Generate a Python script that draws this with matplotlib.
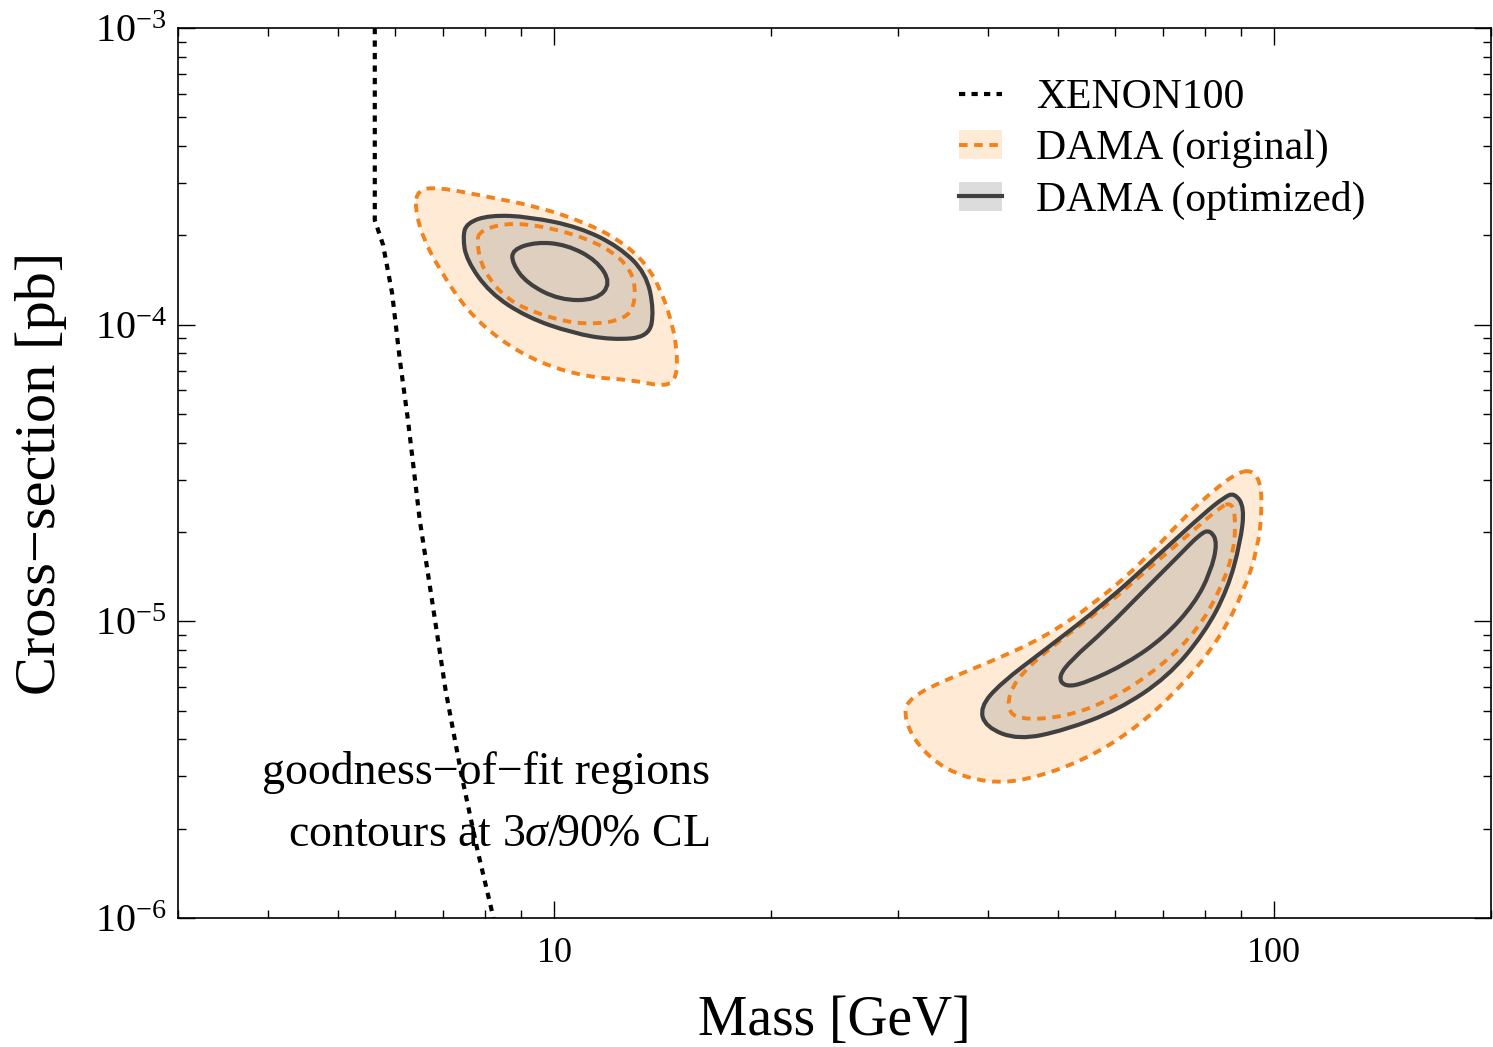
import numpy as np
import matplotlib.pyplot as plt
from matplotlib.patches import Patch, PathPatch
from matplotlib.path import Path
from matplotlib.lines import Line2D
from matplotlib.ticker import LogLocator, NullFormatter, FixedLocator, FixedFormatter

plt.rcParams['font.family'] = ['Liberation Serif', 'DejaVu Serif']
plt.rcParams['mathtext.fontset'] = 'custom'
plt.rcParams['mathtext.rm'] = 'Liberation Serif'
plt.rcParams['mathtext.it'] = 'Liberation Serif:italic'

# XENON100 exclusion line (mass GeV, cross-section pb)
xenon_m = [5.63, 5.63, 5.78, 5.95, 6.10, 6.26, 6.50, 6.76, 7.06, 7.43, 7.82, 8.23]
xenon_s = [1.0e-3, 2.25e-4, 1.86e-4, 1.28e-4, 7.60e-5, 4.77e-5, 2.20e-5, 1.18e-5,
           5.87e-6, 3.03e-6, 1.69e-6, 1.0e-6]

# DAMA (original) - low mass region, 3 sigma and 90% CL
orig_lo_out_m = [6.46, 6.87, 8.13, 9.53, 11.07, 12.30, 13.41, 14.11, 14.57, 14.80, 14.80,
                 14.29, 12.83, 11.07, 9.53, 8.39, 7.55, 6.93, 6.56, 6.40]
orig_lo_out_s = [2.84e-4, 2.91e-4, 2.69e-4, 2.49e-4, 2.20e-4, 1.93e-4, 1.61e-4, 1.28e-4,
                 1.01e-4, 8.21e-5, 6.66e-5, 6.16e-5, 6.51e-5, 6.66e-5, 7.43e-5, 8.88e-5,
                 1.12e-4, 1.53e-4, 1.97e-4, 2.49e-4]
orig_lo_in_m = [7.87, 8.74, 10.26, 11.80, 12.83, 12.99, 12.58, 11.07, 9.75, 8.58, 7.95, 7.80]
orig_lo_in_s = [2.08e-4, 2.22e-4, 2.08e-4, 1.83e-4, 1.53e-4, 1.21e-4, 1.04e-4, 9.97e-5,
                1.06e-4, 1.21e-4, 1.53e-4, 1.88e-4]

# DAMA (optimized) - low mass region
opt_lo_out_m = [7.55, 8.13, 9.23, 10.83, 12.30, 13.41, 13.75, 13.54, 12.03, 10.59, 9.15,
                8.13, 7.55, 7.46]
opt_lo_out_s = [2.20e-4, 2.34e-4, 2.31e-4, 2.13e-4, 1.83e-4, 1.49e-4, 1.12e-4, 9.09e-5,
                8.88e-5, 9.37e-5, 1.06e-4, 1.28e-4, 1.65e-4, 1.97e-4]
opt_lo_in_m = [8.74, 9.44, 10.39, 11.44, 11.99, 11.44, 10.16, 9.15, 8.74]
opt_lo_in_s = [1.79e-4, 1.90e-4, 1.86e-4, 1.65e-4, 1.38e-4, 1.21e-4, 1.21e-4, 1.38e-4, 1.61e-4]

# DAMA (original) - high mass region
orig_hi_out_m = [92.6, 95.6, 96.2, 94.7, 90.9, 84.2, 75.0, 64.6, 54.6, 45.5, 40.0, 34.9,
                 31.7, 30.5, 31.3, 34.9, 40.9, 48.0, 56.3, 66.1, 75.0, 83.4, 88.9]
orig_hi_out_s = [3.24e-5, 2.99e-5, 2.37e-5, 1.74e-5, 1.28e-5, 8.86e-6, 6.19e-6, 4.40e-6,
                 3.41e-6, 2.92e-6, 2.85e-6, 3.15e-6, 3.89e-6, 4.91e-6, 5.56e-6, 6.34e-6,
                 7.41e-6, 8.86e-6, 1.15e-5, 1.61e-5, 2.25e-5, 2.84e-5, 3.16e-5]
orig_hi_in_m = [86.9, 88.3, 88.0, 84.2, 78.2, 69.5, 59.3, 51.2, 44.1, 42.4, 43.6, 48.9,
                58.2, 68.2, 78.2, 84.2]
orig_hi_in_s = [2.51e-5, 2.32e-5, 1.74e-5, 1.28e-5, 9.35e-6, 7.02e-6, 5.43e-6, 4.76e-6,
                4.65e-6, 5.14e-6, 6.34e-6, 8.19e-6, 1.12e-5, 1.57e-5, 2.08e-5, 2.43e-5]

# DAMA (optimized) - high mass region
opt_hi_out_m = [88.0, 90.9, 89.7, 86.1, 80.0, 71.1, 60.6, 51.2, 44.1, 39.7, 39.0, 41.7,
                48.0, 58.2, 69.5, 80.0, 85.2]
opt_hi_out_s = [2.71e-5, 2.43e-5, 1.84e-5, 1.28e-5, 9.14e-6, 6.49e-6, 5.02e-6, 4.30e-6,
                3.98e-6, 4.40e-6, 5.14e-6, 6.19e-6, 8.01e-6, 1.15e-5, 1.70e-5, 2.32e-5, 2.62e-5]
opt_hi_in_m = [81.5, 83.4, 81.5, 77.5, 70.4, 62.6, 54.6, 51.2, 50.1, 52.2, 58.2, 66.1,
               73.4, 79.0]
opt_hi_in_s = [2.03e-5, 1.84e-5, 1.46e-5, 1.15e-5, 8.86e-6, 7.24e-6, 6.19e-6, 6.01e-6,
               6.49e-6, 7.41e-6, 9.35e-6, 1.28e-5, 1.65e-5, 1.98e-5]

legend_labels = ['XENON100', 'DAMA (original)', 'DAMA (optimized)']

orange = '#f2821c'
peach = '#ffead5'
dark = '#404040'
opt_fill = (0.5, 0.5, 0.5, 0.25)
orig_dash = (2.2, 1.7)
xen_dash = (1.5, 1.5)


def smooth_path(m, s):
    # closed quadratic bezier, the read points act as control points
    m = np.asarray(m)
    s = np.asarray(s)
    mid_m = np.sqrt(m * np.roll(m, -1))
    mid_s = np.sqrt(s * np.roll(s, -1))
    verts = [(mid_m[-1], mid_s[-1])]
    codes = [Path.MOVETO]
    for i in range(len(m)):
        verts += [(m[i], s[i]), (mid_m[i], mid_s[i])]
        codes += [Path.CURVE3, Path.CURVE3]
    verts.append(verts[0])
    codes.append(Path.CLOSEPOLY)
    return Path(verts, codes)


fig = plt.figure(figsize=(14.93, 10.47), dpi=100)
ax = fig.add_axes([0.1192, 0.1232, 0.8795, 0.8501])

# fills
for m, s in [(orig_lo_out_m, orig_lo_out_s), (orig_hi_out_m, orig_hi_out_s)]:
    ax.add_patch(PathPatch(smooth_path(m, s), facecolor=peach, lw=0, zorder=1))
for m, s in [(opt_lo_out_m, opt_lo_out_s), (opt_hi_out_m, opt_hi_out_s)]:
    ax.add_patch(PathPatch(smooth_path(m, s), facecolor=opt_fill, lw=0, zorder=2))

# original contours (dotted orange)
for m, s in [(orig_lo_out_m, orig_lo_out_s), (orig_lo_in_m, orig_lo_in_s),
             (orig_hi_out_m, orig_hi_out_s), (orig_hi_in_m, orig_hi_in_s)]:
    ax.add_patch(PathPatch(smooth_path(m, s), facecolor='none', edgecolor=orange,
                           lw=2.8, linestyle=(0, orig_dash), zorder=3))

# optimized contours (solid dark gray)
for m, s in [(opt_lo_out_m, opt_lo_out_s), (opt_lo_in_m, opt_lo_in_s),
             (opt_hi_out_m, opt_hi_out_s), (opt_hi_in_m, opt_hi_in_s)]:
    ax.add_patch(PathPatch(smooth_path(m, s), facecolor='none', edgecolor=dark,
                           lw=3.0, zorder=4))

ax.plot(xenon_m, xenon_s, color='black', lw=3.0, dashes=xen_dash, zorder=5)

ax.set_xscale('log')
ax.set_yscale('log')
ax.set_xlim(3, 200)
ax.set_ylim(1e-6, 1e-3)

ax.xaxis.set_major_locator(FixedLocator([10, 100]))
ax.xaxis.set_major_formatter(FixedFormatter(['10', '100']))
ax.xaxis.set_minor_locator(LogLocator(base=10, subs=np.arange(2, 10)))
ax.xaxis.set_minor_formatter(NullFormatter())
ax.yaxis.set_minor_locator(LogLocator(base=10, subs=np.arange(2, 10)))
ax.yaxis.set_minor_formatter(NullFormatter())

ax.tick_params(which='both', direction='in', top=True, right=True, width=1.0)
ax.tick_params(which='major', length=12)
ax.tick_params(which='minor', length=6)
ax.tick_params(axis='x', which='major', pad=14, labelsize=26)
ax.tick_params(axis='y', which='major', pad=8, labelsize=29)
for sp in ax.spines.values():
    sp.set_linewidth(1.2)

ax.set_xlabel('Mass [GeV]', fontsize=40, labelpad=18)
ax.set_ylabel('Cross\u2212section [pb]', fontsize=42, labelpad=20)

ax.text(0.064, 0.164, 'goodness\u2212of\u2212fit regions', transform=ax.transAxes,
        fontsize=33, ha='left', va='center')
ax.text(0.084, 0.093, r'contours at 3$\sigma$/90% CL', transform=ax.transAxes,
        fontsize=33, ha='left', va='center')

h_xen = Line2D([], [], color='black', lw=3.0, dashes=xen_dash)
h_orig = (Patch(facecolor=peach, edgecolor='none'),
          Line2D([], [], color=orange, lw=2.8, dashes=orig_dash))
h_opt = (Patch(facecolor='#dcdcdc', edgecolor='none'),
         Line2D([], [], color=dark, lw=3.0))
ax.legend([h_xen, h_orig, h_opt], legend_labels, loc='upper left',
          bbox_to_anchor=(0.566, 0.985), frameon=False, fontsize=30,
          handlelength=1.05, handletextpad=0.8, labelspacing=0.3)

fig.savefig('out.png', dpi=100)
